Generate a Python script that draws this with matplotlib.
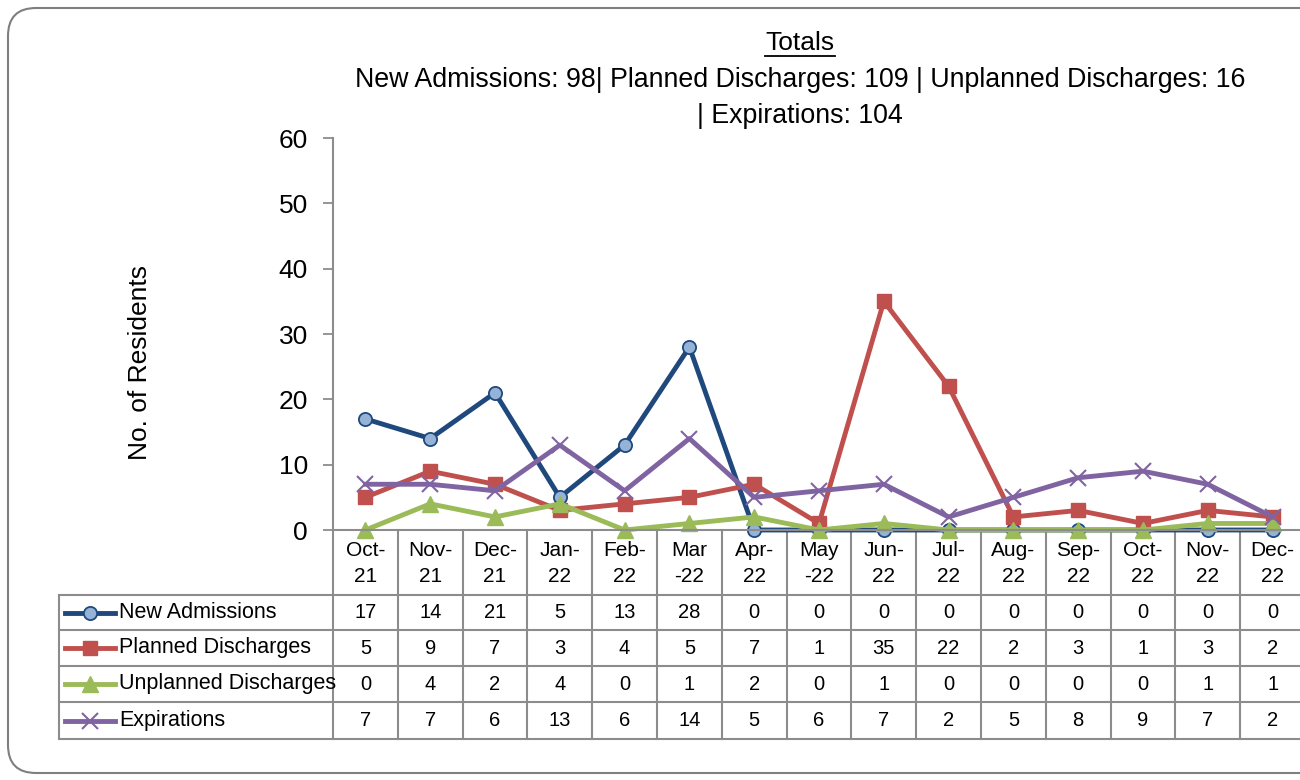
import matplotlib.pyplot as plt
from matplotlib.lines import Line2D
from matplotlib.patches import FancyBboxPatch

plt.rcParams["font.family"] = ["Liberation Sans", "DejaVu Sans"]

months = ["Oct-\n21", "Nov-\n21", "Dec-\n21", "Jan-\n22", "Feb-\n22", "Mar\n-22",
          "Apr-\n22", "May\n-22", "Jun-\n22", "Jul-\n22", "Aug-\n22", "Sep-\n22",
          "Oct-\n22", "Nov-\n22", "Dec-\n22"]
new_admissions = [17, 14, 21, 5, 13, 28, 0, 0, 0, 0, 0, 0, 0, 0, 0]
planned = [5, 9, 7, 3, 4, 5, 7, 1, 35, 22, 2, 3, 1, 3, 2]
unplanned = [0, 4, 2, 4, 0, 1, 2, 0, 1, 0, 0, 0, 0, 1, 1]
expirations = [7, 7, 6, 13, 6, 14, 5, 6, 7, 2, 5, 8, 9, 7, 2]

series = [
    ("New Admissions", new_admissions, dict(color="#1F497D", marker="o", ms=9.5,
                                            mfc="#95B3D7", mec="#1F497D", mew=1.3)),
    ("Planned Discharges", planned, dict(color="#C0504D", marker="s", ms=10.5,
                                         mfc="#C0504D", mec="#C0504D")),
    ("Unplanned Discharges", unplanned, dict(color="#9BBB59", marker="^", ms=11,
                                             mfc="#9BBB59", mec="#9BBB59")),
    ("Expirations", expirations, dict(color="#8064A2", marker="x", ms=11,
                                      mew=1.5, mec="#8064A2")),
]

W, H = 1300, 780
fig = plt.figure(figsize=(13, 7.8), dpi=100)

# layout in pixels
AX_L, AX_R, AX_T, AX_B = 333, 1305, 138, 530
TAB_L = 59
rows_y = [530, 595, 630, 666, 702, 739]
n = len(months)
colw = (AX_R - AX_L) / n
grey = "#8C8C8C"

# overlay for border + table
ov = fig.add_axes([0, 0, 1, 1], zorder=0)
ov.set_xlim(0, W)
ov.set_ylim(H, 0)
ov.axis("off")
ov.add_patch(FancyBboxPatch((8, 8), 1400, 765, boxstyle="round,pad=0,rounding_size=28",
                            fill=False, ec="#7F7F7F", lw=1.5))

# main plot
ax = fig.add_axes([AX_L / W, 1 - AX_B / H, (AX_R - AX_L) / W, (AX_B - AX_T) / H], zorder=2)
ax.patch.set_alpha(0)
x = list(range(n))
for name, vals, kw in series:
    ax.plot(x, vals, lw=3.5, clip_on=False, **kw)
ax.set_xlim(-0.5, n - 0.5)
ax.set_ylim(0, 60)
ax.set_yticks(range(0, 61, 10))
ax.set_xticks([])
ax.tick_params(axis="y", length=7, width=1.3, color=grey, labelsize=19, pad=11)
for s in ("top", "right"):
    ax.spines[s].set_visible(False)
for s in ("left", "bottom"):
    ax.spines[s].set_color(grey)
    ax.spines[s].set_linewidth(1.5)

fig.text(140 / W, 1 - 363 / H, "No. of Residents", rotation=90, ha="center",
         va="center", fontsize=19)

# table lines
for i in range(n + 1):
    xp = AX_L + i * colw
    ov.plot([xp, xp], [rows_y[0], rows_y[-1]], color=grey, lw=1.5)
for y in rows_y[1:]:
    ov.plot([TAB_L, AX_R], [y, y], color=grey, lw=1.5)
ov.plot([TAB_L, TAB_L], [rows_y[1], rows_y[-1]], color=grey, lw=1.5)

# header labels
for i, m in enumerate(months):
    ov.text(AX_L + (i + 0.5) * colw, (rows_y[0] + rows_y[1]) / 2 + 1, m, ha="center",
            va="center", fontsize=15, linespacing=1.45)

# rows
for r, (name, vals, kw) in enumerate(series):
    yc = (rows_y[r + 1] + rows_y[r + 2]) / 2
    ov.add_line(Line2D([65, 90, 115], [yc, yc, yc], lw=3.5, markevery=[1], **kw))
    ov.text(119, yc, name, ha="left", va="center", fontsize=15.5)
    for i, v in enumerate(vals):
        ov.text(AX_L + (i + 0.5) * colw, yc, str(v), ha="center", va="center", fontsize=14.5)

# titles
cx = 800 / W
t = fig.text(cx, 1 - 43 / H, "Totals", ha="center", va="center", fontsize=19)
fig.text(cx, 1 - 80 / H,
         "New Admissions: 98| Planned Discharges: 109 | Unplanned Discharges: 16",
         ha="center", va="center", fontsize=19.3)
fig.text(cx, 1 - 116 / H, "| Expirations: 104", ha="center", va="center", fontsize=19.3)

fig.canvas.draw()
bb = t.get_window_extent()
ov.plot([bb.x0, bb.x1], [H - bb.y0 + 1, H - bb.y0 + 1], color="black", lw=1.3)

fig.savefig("out.png", dpi=100)
